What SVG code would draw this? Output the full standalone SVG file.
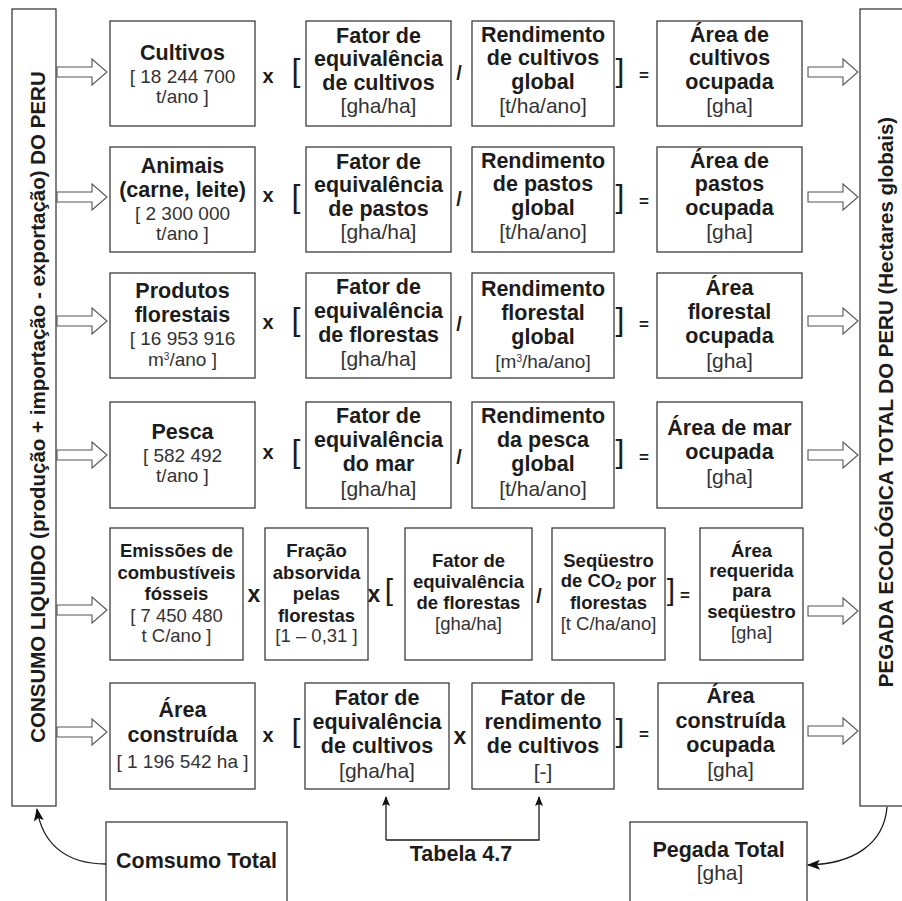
<svg xmlns="http://www.w3.org/2000/svg" width="902" height="901" viewBox="0 0 902 901">
  <style>
    .box { fill: #ffffff; stroke: #3c3c3c; stroke-width: 1.3; }
    .hol { fill: #ffffff; stroke: #555555; stroke-width: 1.1; }
    .wire { fill: none; stroke: #1a1a1a; stroke-width: 1.3; }
    text { font-family: "Liberation Sans", Arial, Helvetica, sans-serif; text-anchor: middle; }
    .b { font-weight: bold; font-size: 21.5px; fill: #1c1c1c; }
    .r { font-size: 21px; fill: #333333; }
    .n { font-size: 19px; fill: #333333; }
    .b5 { font-weight: bold; font-size: 18.5px; fill: #1c1c1c; }
    .r5 { font-size: 18.5px; fill: #333333; }
    .op { font-weight: bold; font-size: 20px; fill: #1c1c1c; }
    .opl { font-weight: bold; font-size: 23px; fill: #1c1c1c; }
    .eq { font-weight: bold; font-size: 17px; fill: #1c1c1c; }
    .br { font-size: 32px; fill: #1c1c1c; }
    .br5 { font-size: 30px; fill: #1c1c1c; }
    .side { font-weight: bold; font-size: 20.5px; fill: #1c1c1c; }
    .sup { font-size: 10px; }
    .sub { font-size: 11px; }
  </style>
  <defs>
    <path id="hollow" class="hol" d="M0,-5 H35 V-13 L50,0 L35,13 V5 H0 Z"/>
    <marker id="head" viewBox="0 0 13 10" refX="12" refY="5" markerWidth="13" markerHeight="10" markerUnits="userSpaceOnUse" orient="auto">
      <path d="M0,0 L13,5 L0,10 L3,5 Z" fill="#111111"/>
    </marker>
    <marker id="small" viewBox="0 0 10 8" refX="9" refY="4" markerWidth="10" markerHeight="8" markerUnits="userSpaceOnUse" orient="auto">
      <path d="M0,0 L10,4 L0,8 L2,4 Z" fill="#111111"/>
    </marker>
  </defs>

  <rect width="902" height="901" fill="#ffffff"/>

  <!-- side columns -->
  <g id="consumo-liquido">
    <rect class="box" x="12" y="9" width="44" height="797"/>
    <text class="side" transform="translate(45,407) rotate(-90)">CONSUMO LIQUIDO (produção + importação - exportação) DO PERU</text>
  </g>
  <g id="pegada-ecologica">
    <rect class="box" x="860" y="9" width="44" height="797"/>
    <text class="side" transform="translate(893,402) rotate(-90)">PEGADA ECOLÓGICA TOTAL DO PERU (Hectares globais)</text>
  </g>

  <!-- row 1: cultivos -->
  <g id="cultivos">
    <rect class="box" x="110" y="21" width="145" height="105"/>
    <text class="b" x="182.5" y="60">Cultivos</text>
    <text class="n" x="182.5" y="83">[ 18 244 700</text>
    <text class="n" x="182.5" y="103">t/ano ]</text>
  </g>
  <g id="fator-cultivos">
    <rect class="box" x="306" y="21" width="145" height="105"/>
    <text class="b" x="378.5" y="43">Fator de</text>
    <text class="b" x="378.5" y="66">equivalência</text>
    <text class="b" x="378.5" y="90">de cultivos</text>
    <text class="r" x="378.5" y="113">[gha/ha]</text>
  </g>
  <g id="rendimento-cultivos">
    <rect class="box" x="472" y="21" width="142" height="105"/>
    <text class="b" x="543" y="42">Rendimento</text>
    <text class="b" x="543" y="65">de cultivos</text>
    <text class="b" x="543" y="89">global</text>
    <text class="r" x="543" y="113">[t/ha/ano]</text>
  </g>
  <g id="area-cultivos">
    <rect class="box" x="657" y="21" width="145" height="105"/>
    <text class="b" x="729.5" y="42">Área de</text>
    <text class="b" x="729.5" y="65">cultivos</text>
    <text class="b" x="729.5" y="89">ocupada</text>
    <text class="r" x="729.5" y="113">[gha]</text>
  </g>

  <!-- row 2: animais -->
  <g id="animais">
    <rect class="box" x="110" y="147" width="145" height="105"/>
    <text class="b" x="182.5" y="173">Animais</text>
    <text class="b" x="182.5" y="197">(carne, leite)</text>
    <text class="n" x="182.5" y="220">[ 2 300 000</text>
    <text class="n" x="182.5" y="240">t/ano ]</text>
  </g>
  <g id="fator-pastos">
    <rect class="box" x="306" y="147" width="145" height="105"/>
    <text class="b" x="378.5" y="169">Fator de</text>
    <text class="b" x="378.5" y="192">equivalência</text>
    <text class="b" x="378.5" y="216">de pastos</text>
    <text class="r" x="378.5" y="239">[gha/ha]</text>
  </g>
  <g id="rendimento-pastos">
    <rect class="box" x="472" y="147" width="142" height="105"/>
    <text class="b" x="543" y="168">Rendimento</text>
    <text class="b" x="543" y="191">de pastos</text>
    <text class="b" x="543" y="215">global</text>
    <text class="r" x="543" y="239">[t/ha/ano]</text>
  </g>
  <g id="area-pastos">
    <rect class="box" x="657" y="147" width="145" height="105"/>
    <text class="b" x="729.5" y="168">Área de</text>
    <text class="b" x="729.5" y="191">pastos</text>
    <text class="b" x="729.5" y="215">ocupada</text>
    <text class="r" x="729.5" y="239">[gha]</text>
  </g>

  <!-- row 3: produtos florestais -->
  <g id="produtos-florestais">
    <rect class="box" x="110" y="273" width="145" height="105"/>
    <text class="b" x="182.5" y="298">Produtos</text>
    <text class="b" x="182.5" y="322">florestais</text>
    <text class="n" x="182.5" y="345">[ 16 953 916</text>
    <text class="n" x="182.5" y="366">m<tspan class="sup" dy="-6">3</tspan><tspan dy="6">/ano ]</tspan></text>
  </g>
  <g id="fator-florestas">
    <rect class="box" x="306" y="273" width="145" height="105"/>
    <text class="b" x="378.5" y="294">Fator de</text>
    <text class="b" x="378.5" y="318">equivalência</text>
    <text class="b" x="378.5" y="342">de florestas</text>
    <text class="r" x="378.5" y="366">[gha/ha]</text>
  </g>
  <g id="rendimento-florestal">
    <rect class="box" x="472" y="273" width="142" height="105"/>
    <text class="b" x="543" y="296">Rendimento</text>
    <text class="b" x="543" y="320">florestal</text>
    <text class="b" x="543" y="344">global</text>
    <text class="n" x="543" y="368">[m<tspan class="sup" dy="-6">3</tspan><tspan dy="6">/ha/ano]</tspan></text>
  </g>
  <g id="area-florestal">
    <rect class="box" x="657" y="273" width="145" height="105"/>
    <text class="b" x="729.5" y="295">Área</text>
    <text class="b" x="729.5" y="319">florestal</text>
    <text class="b" x="729.5" y="343">ocupada</text>
    <text class="r" x="729.5" y="368">[gha]</text>
  </g>

  <!-- row 4: pesca -->
  <g id="pesca">
    <rect class="box" x="110" y="402" width="145" height="106"/>
    <text class="b" x="182.5" y="439">Pesca</text>
    <text class="n" x="182.5" y="462">[ 582 492</text>
    <text class="n" x="182.5" y="482">t/ano ]</text>
  </g>
  <g id="fator-mar">
    <rect class="box" x="306" y="402" width="145" height="106"/>
    <text class="b" x="378.5" y="423">Fator de</text>
    <text class="b" x="378.5" y="447">equivalência</text>
    <text class="b" x="378.5" y="471">do mar</text>
    <text class="r" x="378.5" y="496">[gha/ha]</text>
  </g>
  <g id="rendimento-pesca">
    <rect class="box" x="472" y="402" width="142" height="106"/>
    <text class="b" x="543" y="423">Rendimento</text>
    <text class="b" x="543" y="447">da pesca</text>
    <text class="b" x="543" y="471">global</text>
    <text class="r" x="543" y="496">[t/ha/ano]</text>
  </g>
  <g id="area-mar">
    <rect class="box" x="657" y="402" width="145" height="106"/>
    <text class="b" x="729.5" y="435">Área de mar</text>
    <text class="b" x="729.5" y="459">ocupada</text>
    <text class="r" x="729.5" y="484">[gha]</text>
  </g>

  <!-- row 5: emissões -->
  <g id="emissoes">
    <rect class="box" x="110" y="528" width="133" height="132"/>
    <text class="b5" x="176.5" y="557">Emissões de</text>
    <text class="b5" x="176.5" y="579">combustíveis</text>
    <text class="b5" x="176.5" y="600">fósseis</text>
    <text class="r5" x="176.5" y="622">[ 7 450 480</text>
    <text class="r5" x="176.5" y="642">t C/ano ]</text>
  </g>
  <g id="fracao">
    <rect class="box" x="265" y="528" width="103" height="132"/>
    <text class="b5" x="316.5" y="557">Fração</text>
    <text class="b5" x="316.5" y="579">absorvida</text>
    <text class="b5" x="316.5" y="600">pelas</text>
    <text class="b5" x="316.5" y="622">florestas</text>
    <text class="r5" x="316.5" y="642">[1 – 0,31 ]</text>
  </g>
  <g id="fator-florestas-co2">
    <rect class="box" x="405" y="528" width="127" height="132"/>
    <text class="b5" x="468.5" y="567">Fator de</text>
    <text class="b5" x="468.5" y="588">equivalência</text>
    <text class="b5" x="468.5" y="609">de florestas</text>
    <text class="r5" x="468.5" y="630">[gha/ha]</text>
  </g>
  <g id="sequestro">
    <rect class="box" x="552" y="528" width="113" height="132"/>
    <text class="b5" x="608.5" y="567">Seqüestro</text>
    <text class="b5" x="608.5" y="587">de CO<tspan class="sub" dy="2">2</tspan><tspan dy="-2"> por</tspan></text>
    <text class="b5" x="608.5" y="609">florestas</text>
    <text class="r5" x="608.5" y="630">[t C/ha/ano]</text>
  </g>
  <g id="area-sequestro">
    <rect class="box" x="700" y="528" width="103" height="132"/>
    <text class="b5" x="751.5" y="557">Área</text>
    <text class="b5" x="751.5" y="577">requerida</text>
    <text class="b5" x="751.5" y="597">para</text>
    <text class="b5" x="751.5" y="618">seqüestro</text>
    <text class="r5" x="751.5" y="639">[gha]</text>
  </g>

  <!-- row 6: área construída -->
  <g id="area-construida">
    <rect class="box" x="110" y="683" width="145" height="106"/>
    <text class="b" x="182.5" y="717">Área</text>
    <text class="b" x="182.5" y="742">construída</text>
    <text class="n" x="182.5" y="768">[ 1 196 542 ha ]</text>
  </g>
  <g id="fator-equivalencia-construida">
    <rect class="box" x="305" y="683" width="144" height="106"/>
    <text class="b" x="377" y="705">Fator de</text>
    <text class="b" x="377" y="729">equivalência</text>
    <text class="b" x="377" y="753">de cultivos</text>
    <text class="r" x="377" y="778">[gha/ha]</text>
  </g>
  <g id="fator-rendimento">
    <rect class="box" x="472" y="683" width="142" height="106"/>
    <text class="b" x="543" y="705">Fator de</text>
    <text class="b" x="543" y="729">rendimento</text>
    <text class="b" x="543" y="753">de cultivos</text>
    <text class="r" x="543" y="779">[-]</text>
  </g>
  <g id="area-construida-ocupada">
    <rect class="box" x="658" y="683" width="145" height="106"/>
    <text class="b" x="730.5" y="703">Área</text>
    <text class="b" x="730.5" y="728">construída</text>
    <text class="b" x="730.5" y="752">ocupada</text>
    <text class="r" x="730.5" y="777">[gha]</text>
  </g>

  <!-- totals -->
  <g id="consumo-total">
    <rect class="box" x="106" y="822" width="181" height="90"/>
    <text class="b" x="196.5" y="868">Comsumo Total</text>
  </g>
  <g id="pegada-total">
    <rect class="box" x="630" y="822" width="177" height="90"/>
    <text class="b" x="718.5" y="857">Pegada Total</text>
    <text class="r" x="720" y="880">[gha]</text>
  </g>
  <g id="tabela">
    <text class="b" x="461" y="861" font-size="21px">Tabela 4.7</text>
  </g>

  <!-- formula operators -->
  <g id="operators">
    <text class="op" x="268" y="83">x</text>
    <text class="br" x="296" y="81">[</text>
    <text class="op" x="459" y="80">/</text>
    <text class="br" x="620" y="81">]</text>
    <text class="eq" x="644" y="81">=</text>

    <text class="op" x="268" y="202">x</text>
    <text class="br" x="296" y="207">[</text>
    <text class="op" x="459" y="206">/</text>
    <text class="br" x="620" y="207">]</text>
    <text class="eq" x="644" y="207">=</text>

    <text class="op" x="268" y="329">x</text>
    <text class="br" x="296" y="330">[</text>
    <text class="op" x="459" y="331">/</text>
    <text class="br" x="620" y="330">]</text>
    <text class="eq" x="644" y="330">=</text>

    <text class="op" x="268" y="459">x</text>
    <text class="br" x="296" y="462">[</text>
    <text class="op" x="459" y="464">/</text>
    <text class="br" x="620" y="462">]</text>
    <text class="eq" x="644" y="463">=</text>

    <text class="opl" x="254" y="602">x</text>
    <text class="opl" x="374" y="602">x</text>
    <text class="br5" x="389" y="600">[</text>
    <text class="op" x="539" y="603" font-size="18px">/</text>
    <text class="br5" x="671" y="600">]</text>
    <text class="eq" x="685" y="601">=</text>

    <text class="op" x="268" y="742">x</text>
    <text class="br" x="296" y="741">[</text>
    <text class="opl" x="460" y="744">x</text>
    <text class="br" x="620" y="741">]</text>
    <text class="eq" x="644" y="740">=</text>
  </g>

  <!-- connectors -->
  <g id="connectors">
    <use href="#hollow" x="57" y="72"/>
    <use href="#hollow" x="57" y="197"/>
    <use href="#hollow" x="57" y="321"/>
    <use href="#hollow" x="57" y="455"/>
    <use href="#hollow" x="57" y="610"/>
    <use href="#hollow" x="57" y="732"/>

    <use href="#hollow" x="808" y="72"/>
    <use href="#hollow" x="808" y="197"/>
    <use href="#hollow" x="808" y="321"/>
    <use href="#hollow" x="808" y="455"/>
    <use href="#hollow" x="808" y="611"/>
    <use href="#hollow" x="808" y="731"/>

    <path class="wire" d="M386,840 V797" marker-end="url(#small)"/>
    <path class="wire" d="M386,840 H539 V797" marker-end="url(#small)"/>

    <path class="wire" d="M106,864 C 64,864 42,842 37,809" marker-end="url(#head)"/>
    <path class="wire" d="M887,807 C 884,845 852,864 808,865" marker-end="url(#head)"/>
  </g>
</svg>
